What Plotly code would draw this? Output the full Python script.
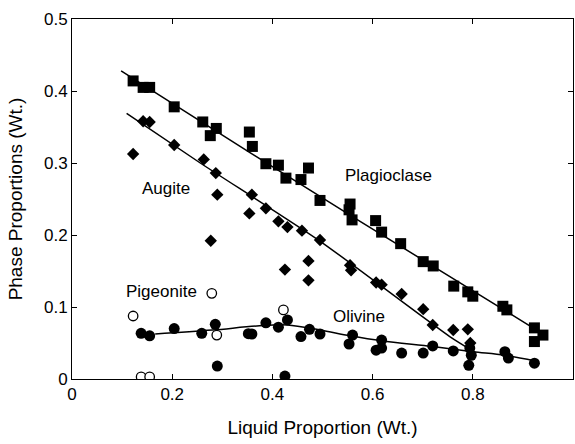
import plotly.graph_objects as go

# Plagioclase (filled squares)
plag_x = [0.122, 0.142, 0.155, 0.204, 0.261, 0.288, 0.276, 0.354, 0.360, 0.387, 0.412,
          0.427, 0.457, 0.472, 0.495, 0.555, 0.553, 0.559, 0.606, 0.618, 0.656, 0.701,
          0.721, 0.762, 0.790, 0.800, 0.860, 0.868, 0.923, 0.940, 0.923]
plag_y = [0.414, 0.405, 0.405, 0.378, 0.357, 0.348, 0.338, 0.343, 0.323, 0.299, 0.297,
          0.279, 0.277, 0.293, 0.248, 0.243, 0.235, 0.221, 0.220, 0.204, 0.188, 0.163,
          0.157, 0.129, 0.121, 0.115, 0.101, 0.096, 0.071, 0.061, 0.052]

# Augite (filled diamonds)
aug_x = [0.122, 0.142, 0.155, 0.204, 0.263, 0.287, 0.290, 0.277, 0.359, 0.354, 0.387,
         0.412, 0.430, 0.459, 0.495, 0.425, 0.472, 0.472, 0.555, 0.557, 0.607, 0.618,
         0.658, 0.701, 0.720, 0.761, 0.790, 0.795]
aug_y = [0.3125, 0.358, 0.357, 0.325, 0.305, 0.286, 0.256, 0.192, 0.256, 0.230, 0.237,
         0.219, 0.211, 0.206, 0.193, 0.152, 0.164, 0.137, 0.158, 0.151, 0.134, 0.131,
         0.118, 0.097, 0.075, 0.068, 0.069, 0.050]

# Olivine (filled circles)
oliv_x = [0.138, 0.155, 0.204, 0.259, 0.286, 0.290, 0.352, 0.359, 0.387, 0.412, 0.430,
          0.425, 0.457, 0.474, 0.495, 0.553, 0.560, 0.607, 0.618, 0.618, 0.658, 0.701,
          0.720, 0.761, 0.794, 0.792, 0.797, 0.864, 0.871, 0.923]
oliv_y = [0.0635, 0.060, 0.070, 0.0635, 0.076, 0.018, 0.063, 0.0625, 0.078, 0.072, 0.082,
          0.004, 0.059, 0.069, 0.0625, 0.0486, 0.061, 0.040, 0.054, 0.043, 0.036, 0.036,
          0.046, 0.039, 0.043, 0.019, 0.033, 0.038, 0.029, 0.022]

# Pigeonite (open circles)
pig_x = [0.122, 0.138, 0.155, 0.279, 0.289, 0.422]
pig_y = [0.0875, 0.003, 0.003, 0.119, 0.061, 0.096]

# Fitted trends
plag_fit_x = [0.098, 0.356, 0.575, 0.925]
plag_fit_y = [0.428, 0.314, 0.219, 0.069]
aug_fit_x = [0.109, 0.256, 0.492, 0.754, 0.800]
aug_fit_y = [0.369, 0.300, 0.193, 0.059, 0.039]
oliv_fit_x = [0.166, 0.28, 0.369, 0.43, 0.495, 0.555, 0.618, 0.72, 0.80, 0.864, 0.925]
oliv_fit_y = [0.0625, 0.068, 0.0736, 0.075, 0.068, 0.060, 0.053, 0.045, 0.038, 0.033, 0.025]

# Phase labels
label_text = ["Plagioclase", "Augite", "Pigeonite", "Olivine"]
label_x = [0.631, 0.188, 0.178, 0.572]
label_y = [0.282, 0.264, 0.121, 0.0875]

font_family = "Liberation Sans, Arial, sans-serif"

fig = go.Figure()

line_style = dict(color="black", width=1.5)
fig.add_trace(go.Scatter(x=plag_fit_x, y=plag_fit_y, mode="lines", line=line_style,
                         hoverinfo="skip"))
fig.add_trace(go.Scatter(x=aug_fit_x, y=aug_fit_y, mode="lines",
                         line=dict(line_style, shape="spline", smoothing=0.6),
                         hoverinfo="skip"))
fig.add_trace(go.Scatter(x=oliv_fit_x, y=oliv_fit_y, mode="lines",
                         line=dict(line_style, shape="spline", smoothing=1.0),
                         hoverinfo="skip"))

fig.add_trace(go.Scatter(x=plag_x, y=plag_y, mode="markers", name="Plagioclase",
                         marker=dict(symbol="square", size=11, color="black",
                                     line=dict(width=0))))
fig.add_trace(go.Scatter(x=aug_x, y=aug_y, mode="markers", name="Augite",
                         marker=dict(symbol="diamond", size=9.5, color="black",
                                     line=dict(width=0))))
fig.add_trace(go.Scatter(x=oliv_x, y=oliv_y, mode="markers", name="Olivine",
                         marker=dict(symbol="circle", size=11, color="black",
                                     line=dict(width=0))))
fig.add_trace(go.Scatter(x=pig_x, y=pig_y, mode="markers", name="Pigeonite",
                         marker=dict(symbol="circle", size=9.5, color="white",
                                     line=dict(color="black", width=1.3))))

for t, x, y in zip(label_text, label_x, label_y):
    fig.add_annotation(x=x, y=y, text=t, showarrow=False,
                       font=dict(family=font_family, size=17, color="black"))

axis_common = dict(
    showgrid=False, zeroline=False, showline=True, linecolor="black", linewidth=1,
    mirror="ticks", ticks="inside", ticklen=5, tickcolor="black",
    tickfont=dict(family=font_family, size=17, color="black"),
)

fig.update_xaxes(range=[0, 1], tickvals=[0, 0.2, 0.4, 0.6, 0.8, 1],
                 ticktext=["0", "0.2", "0.4", "0.6", "0.8", "1"],
                 title=dict(text="Liquid Proportion (Wt.)", standoff=17,
                            font=dict(family=font_family, size=19, color="black")),
                 **axis_common)
fig.update_yaxes(range=[0, 0.5], tickvals=[0, 0.1, 0.2, 0.3, 0.4, 0.5],
                 ticktext=["0", "0.1", "0.2", "0.3", "0.4", "0.5"],
                 title=dict(text="Phase Proportions (Wt.)", standoff=16,
                            font=dict(family=font_family, size=19, color="black")),
                 **axis_common)

fig.update_layout(
    width=575, height=444,
    margin=dict(l=72, r=2, t=19, b=65),
    paper_bgcolor="white", plot_bgcolor="white",
    showlegend=False,
)

fig.write_html("out.html")
